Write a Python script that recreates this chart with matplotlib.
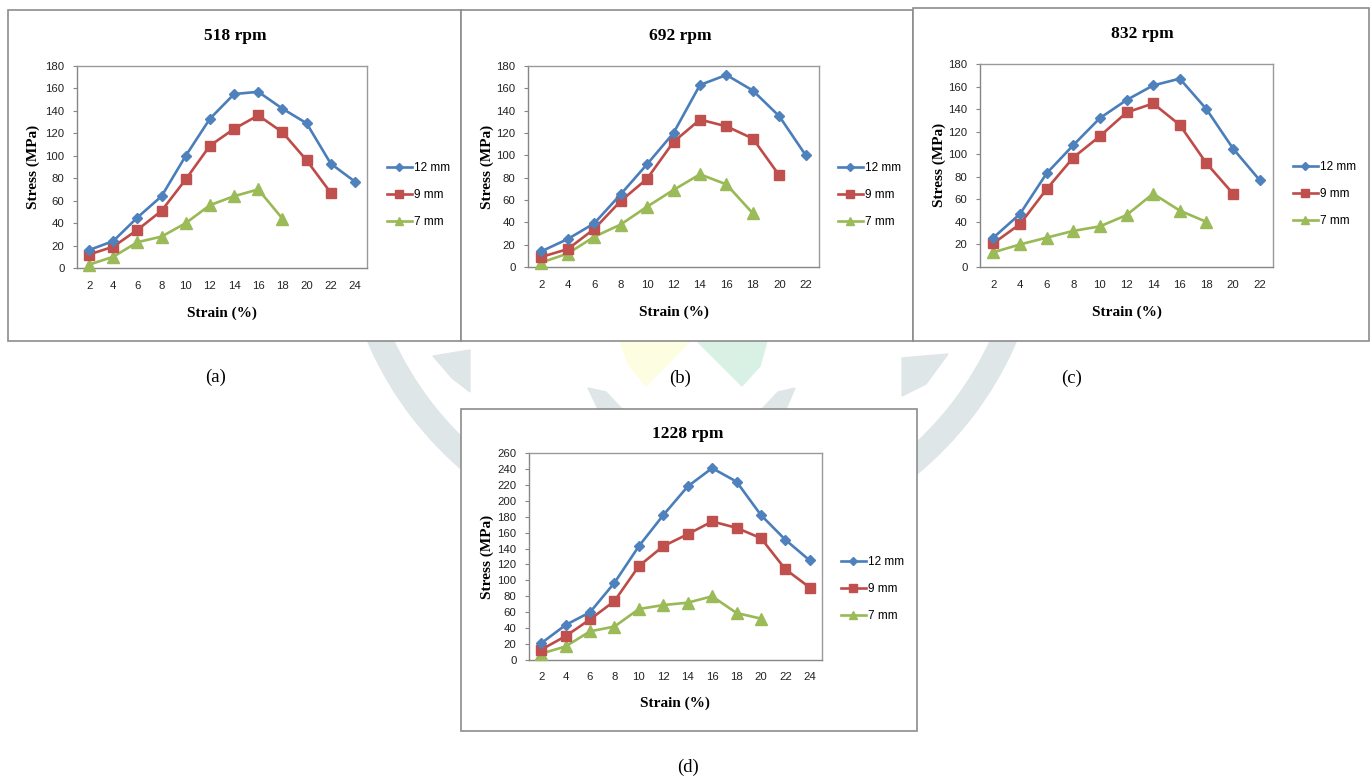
import matplotlib.pyplot as plt
from matplotlib.patches import Rectangle, Wedge, Polygon

# ---- data ----
strain_a = [2, 4, 6, 8, 10, 12, 14, 16, 18, 20, 22, 24]
a_12mm = [16, 24, 45, 64, 100, 133, 155, 157, 142, 129, 93, 77]
a_9mm = [12, 19, 34, 51, 79, 109, 124, 136, 121, 96, 67]
a_7mm = [3, 10, 23, 28, 40, 56, 64, 70, 44]

strain_b = [2, 4, 6, 8, 10, 12, 14, 16, 18, 20, 22]
b_12mm = [14, 25, 39, 65, 92, 120, 163, 172, 158, 135, 100]
b_9mm = [9, 16, 34, 59, 79, 112, 132, 126, 115, 82]
b_7mm = [4, 12, 27, 38, 54, 69, 83, 74, 48]

strain_c = [2, 4, 6, 8, 10, 12, 14, 16, 18, 20, 22]
c_12mm = [26, 47, 83, 108, 132, 148, 161, 167, 140, 105, 77]
c_9mm = [21, 38, 69, 97, 116, 137, 145, 126, 92, 65]
c_7mm = [13, 20, 26, 32, 36, 46, 65, 50, 40]

strain_d = [2, 4, 6, 8, 10, 12, 14, 16, 18, 20, 22, 24]
d_12mm = [21, 44, 60, 97, 143, 182, 218, 241, 224, 182, 151, 125]
d_9mm = [13, 30, 51, 74, 118, 143, 158, 174, 166, 153, 114, 91]
d_7mm = [8, 17, 36, 42, 64, 69, 72, 80, 59, 52]

labels = ['12 mm', '9 mm', '7 mm']
titles = ['518 rpm', '692 rpm', '832 rpm', '1228 rpm']
captions = ['(a)', '(b)', '(c)', '(d)']

W, H = 1372, 778
fig = plt.figure(figsize=(W / 100, H / 100), dpi=100)

# background layer in pixel coordinates (watermark + panel boxes)
bg = fig.add_axes([0, 0, 1, 1])
bg.set_xlim(0, W)
bg.set_ylim(H, 0)
bg.axis('off')

wm = '#dfe6e8'
bg.add_patch(Wedge((692, 202), 353, -15, 195, width=24, color=wm, zorder=1))
bg.add_patch(Polygon([(620, 341), (690, 341), (646, 386), (628, 364)],
                     color='#fdfde2', zorder=1))
bg.add_patch(Polygon([(697, 341), (767, 341), (760, 366), (742, 386)],
                     color='#d9f0e5', zorder=1))
bg.add_patch(Polygon([(433, 356), (470, 350), (470, 392), (452, 378)], color=wm, zorder=1))
bg.add_patch(Polygon([(902, 358), (948, 354), (926, 384), (902, 396)], color=wm, zorder=1))
bg.add_patch(Polygon([(588, 388), (606, 392), (622, 409), (598, 409)], color=wm, zorder=1))
bg.add_patch(Polygon([(795, 388), (778, 392), (762, 409), (786, 409)], color=wm, zorder=1))

panels = [
    dict(x=strain_a, ys=[a_12mm, a_9mm, a_7mm], ymax=180,
         box=(8, 10, 461, 341), plot=(77, 66, 367, 268),
         title=(235, 36), ylab=(33, 167), xlab=(222, 313), leg=(387, 195), cap=(216, 377)),
    dict(x=strain_b, ys=[b_12mm, b_9mm, b_7mm], ymax=180,
         box=(461, 10, 913, 341), plot=(528, 66, 819, 267),
         title=(680, 36), ylab=(487, 167), xlab=(674, 312), leg=(838, 195), cap=(680, 378)),
    dict(x=strain_c, ys=[c_12mm, c_9mm, c_7mm], ymax=180,
         box=(913, 8, 1369, 341), plot=(980, 64, 1273, 267),
         title=(1142, 34), ylab=(939, 165), xlab=(1127, 312), leg=(1293, 194), cap=(1072, 378)),
    dict(x=strain_d, ys=[d_12mm, d_9mm, d_7mm], ymax=260,
         box=(461, 409, 917, 731), plot=(529, 453, 822, 660),
         title=(688, 434), ylab=(487, 557), xlab=(675, 703), leg=(841, 589), cap=(688, 767)),
]

line_cols = ['#4A7EBB', '#BE4B48', '#98B954']
mark_cols = ['#4F81BD', '#C0504D', '#9BBB59']
markers = ['D', 's', '^']
msizes = [5.6, 7.8, 8.2]

serif = 'Liberation Serif'
sans = 'Liberation Sans'

for i, p in enumerate(panels):
    bx0, by0, bx1, by1 = p['box']
    bg.add_patch(Rectangle((bx0, by0), bx1 - bx0, by1 - by0, facecolor='white',
                           edgecolor='#8c8c8c', lw=1.2, zorder=2))

    px0, py0, px1, py1 = p['plot']
    ax = fig.add_axes([px0 / W, 1 - py1 / H, (px1 - px0) / W, (py1 - py0) / H])
    n = len(p['x'])
    pos = list(range(n))
    for k, y in enumerate(p['ys']):
        ax.plot(pos[:len(y)], y, color=line_cols[k], lw=1.9, marker=markers[k],
                ms=msizes[k], mfc=mark_cols[k], mec=mark_cols[k], label=labels[k],
                solid_joinstyle='round', clip_on=False, zorder=3 - k * 0.1)
    ax.set_xlim(-0.5, n - 0.5)
    ax.set_ylim(0, p['ymax'])
    ax.set_yticks(range(0, p['ymax'] + 1, 20))
    ax.set_xticks(pos)
    ax.set_xticklabels([str(v) for v in p['x']])
    for s in ax.spines.values():
        s.set_color('#9a9a9a')
        s.set_linewidth(1.0)
    ax.spines['left'].set_color('#868686')
    ax.spines['bottom'].set_color('#868686')
    ax.tick_params(axis='y', length=3, width=0.8, color='#868686', pad=6,
                   labelsize=8.2, labelcolor='#222222')
    ax.tick_params(axis='x', length=0, pad=9, labelsize=8.2, labelcolor='#222222')
    for t in ax.get_xticklabels() + ax.get_yticklabels():
        t.set_fontfamily(sans)

    def frac(xp, yp):
        return (xp - px0) / (px1 - px0), (py1 - yp) / (py1 - py0)

    ax.set_ylabel('Stress (MPa)', fontfamily=serif, fontweight='bold', fontsize=11)
    ax.yaxis.set_label_coords(*frac(*p['ylab']))
    ax.set_xlabel('Strain (%)', fontfamily=serif, fontweight='bold', fontsize=11)
    ax.xaxis.set_label_coords(*frac(*p['xlab']))
    ax.xaxis.label.set_va('center')
    ax.yaxis.label.set_va('center')

    bg.text(p['title'][0], p['title'][1], titles[i], fontfamily=serif,
            fontweight='bold', fontsize=12.5, ha='center', va='center', zorder=4)
    bg.text(p['cap'][0], p['cap'][1], captions[i], fontfamily=serif,
            fontsize=13.5, ha='center', va='center', zorder=4)

    ax.legend(loc='center left', bbox_to_anchor=frac(*p['leg']), frameon=False,
              borderpad=0, borderaxespad=0, handlelength=2.1, handletextpad=0.15,
              labelspacing=1.3, markerscale=0.7,
              prop={'family': sans, 'size': 8.5})

fig.savefig('out.png', dpi=100)
